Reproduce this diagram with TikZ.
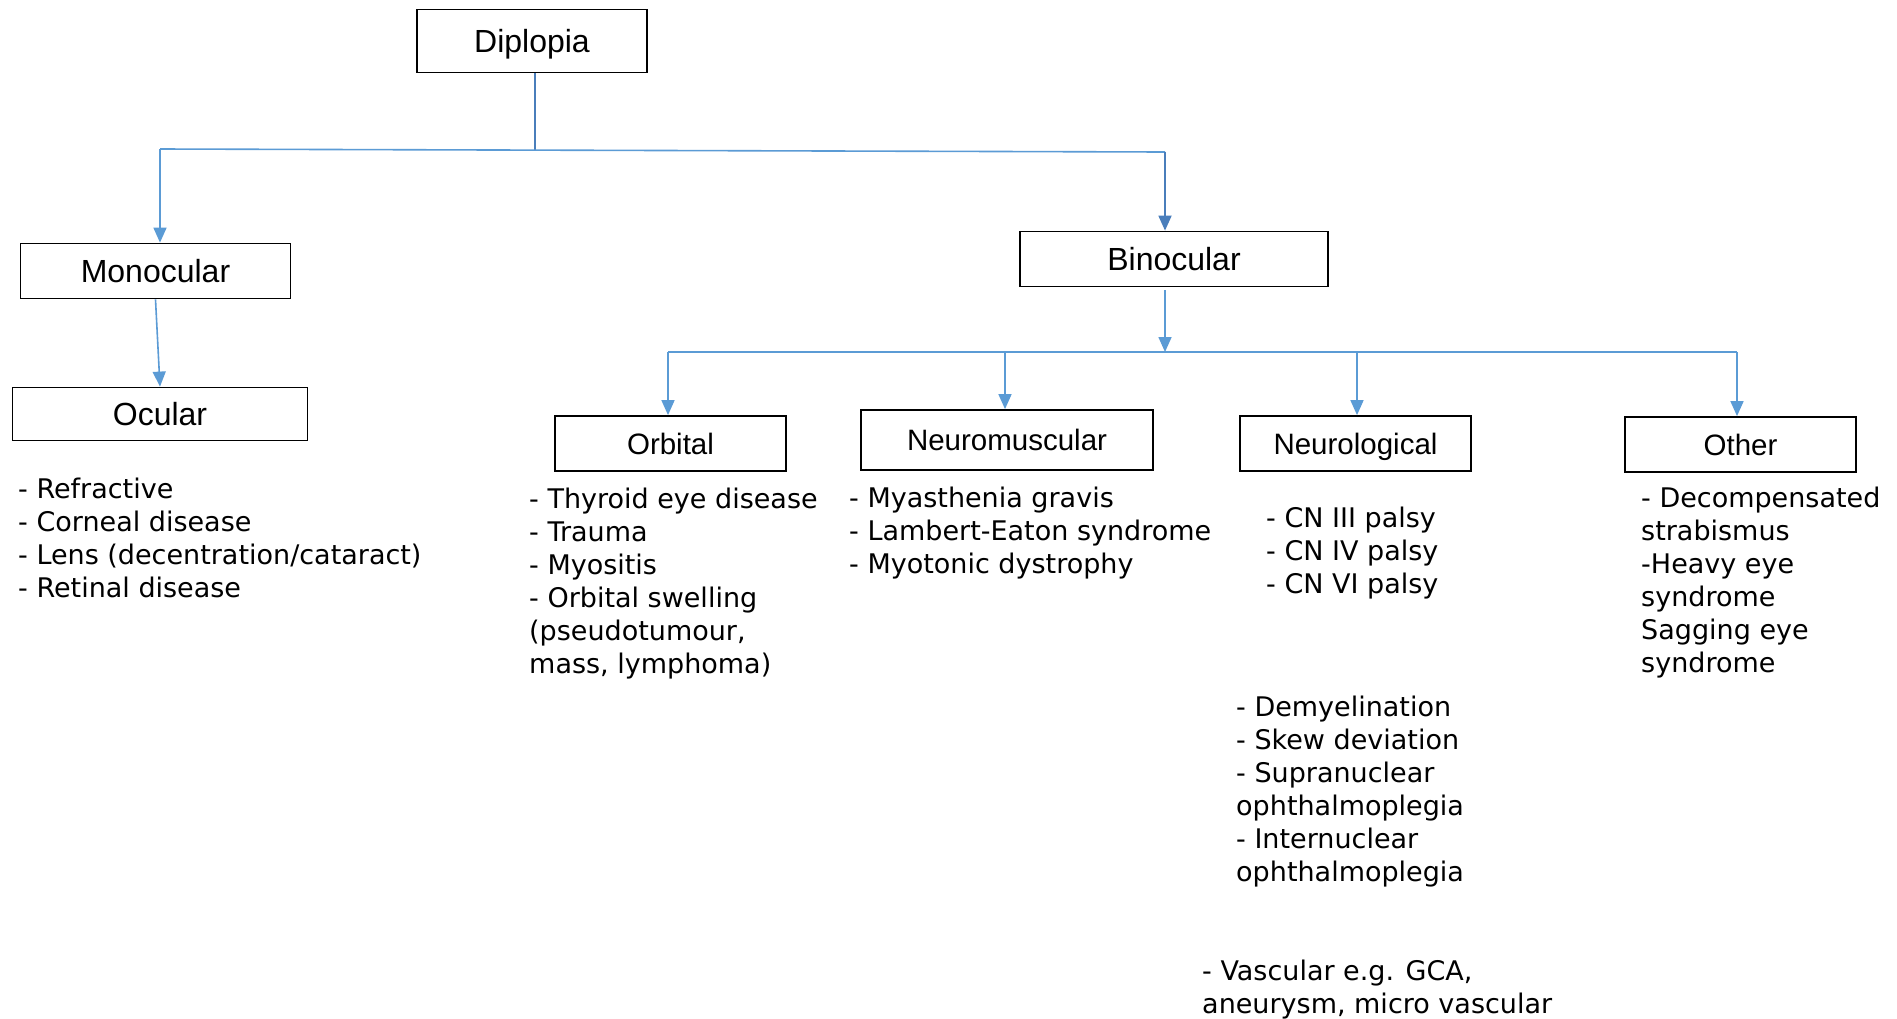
\documentclass[tikz,border=0pt]{standalone}
\usepackage{fontspec}
\setmainfont{DejaVu Sans}
\newfontfamily\boxfont{Liberation Sans}
\usetikzlibrary{arrows.meta}
\definecolor{connc}{HTML}{5B9BD5}
\definecolor{conndk}{HTML}{4A7EBB}
\begin{document}
\begin{tikzpicture}[x=1pt,y=-1pt,
  box/.style={draw=black, line width=1.8pt, inner sep=0pt, text height=22.9pt, text depth=0pt, font=\boxfont\fontsize{32}{38}\selectfont},
  sbox/.style={box, text height=21.1pt, font=\boxfont\fontsize{29.5}{35}\selectfont},
  conn/.style={draw=connc, line width=1.6pt},
  conndark/.style={draw=conndk, line width=1.8pt},
  tip/.style={-{Triangle[width=13pt,length=15pt]}},
  list/.style={anchor=base west, align=left, inner sep=0pt, font=\fontsize{27}{33}\selectfont}]
\useasboundingbox (0,0) rectangle (1897,1018);
\fill[white] (0,0) rectangle (1897,1018);

% boxes
\node[box, minimum width=230pt, minimum height=63pt] (dip) at (532,41) {Diplopia};
\node[box, minimum width=270pt, minimum height=55pt] (mono) at (155.5,271) {Monocular};
\node[box, minimum width=295pt, minimum height=53pt] (ocu) at (160,414) {Ocular};
\node[box, minimum width=308pt, minimum height=55pt] (bino) at (1174,259) {Binocular};
\node[sbox, minimum width=231pt, minimum height=55pt] (orb) at (670.5,443.5) {Orbital};
\node[sbox, minimum width=292pt, minimum height=60pt] (nm) at (1007,440) {Neuromuscular};
\node[sbox, minimum width=231pt, minimum height=55pt] (neu) at (1355.5,443.5) {Neurological};
\node[sbox, minimum width=231pt, minimum height=55pt] (oth) at (1740.5,444.5) {Other};

% junction coordinates
\coordinate (jl) at (160,149);
\coordinate (jm) at (535,151);
\coordinate (jr) at (1165,152);
\coordinate (bt) at (1165,290);
\coordinate (bm) at (1165,352);
\coordinate (b1) at (668,352);
\coordinate (b2) at (1005,352);
\coordinate (b3) at (1357,352);
\coordinate (b4) at (1737,352);

% connectors
\draw[conndark] (dip.south -| jm) -- (jm);
\draw[conn] (jl) -- (jr);
\draw[conn, tip] (jl) -- (jl |- mono.north);
\draw[conndark, tip] (jr) -- (jr |- bino.north);
\draw[conn, tip] (mono.south) -- (ocu.north);
\draw[conn, tip] (bt) -- (bm);
\draw[conn] (b1) -- (b4);
\draw[conn, tip] (b1) -- (b1 |- orb.north);
\draw[conn, tip] (b2) -- (b2 |- nm.north);
\draw[conn, tip] (b3) -- (b3 |- neu.north);
\draw[conn, tip] (b4) -- (b4 |- oth.north);

% lists (anchored at the baseline of the last line)
\node[list] (ocl) at (18,597) {- Refractive\\- Corneal disease\\- Lens (decentration/cataract)\\- Retinal disease};
\node[list] (orbl) at (529,673) {- Thyroid eye disease\\- Trauma\\- Myositis\\- Orbital swelling\\(pseudotumour,\\mass, lymphoma)};
\node[list] (nml) at (849,573) {- Myasthenia gravis\\- Lambert-Eaton syndrome\\- Myotonic dystrophy};
\node[list] (neul1) at (1266,593) {- CN III palsy\\- CN IV palsy\\- CN VI palsy};
\node[list] (neul2) at (1236,881.5) {- Demyelination\\- Skew deviation\\- Supranuclear\\ophthalmoplegia\\- Internuclear\\ophthalmoplegia};
\node[list] (vasc) at (1202,1013) {- Vascular e.g. GCA,\\aneurysm, micro vascular};
\node[list] (othl) at (1641,672) {- Decompensated\\strabismus\\-Heavy eye\\syndrome\\Sagging eye\\syndrome};
\end{tikzpicture}
\end{document}
